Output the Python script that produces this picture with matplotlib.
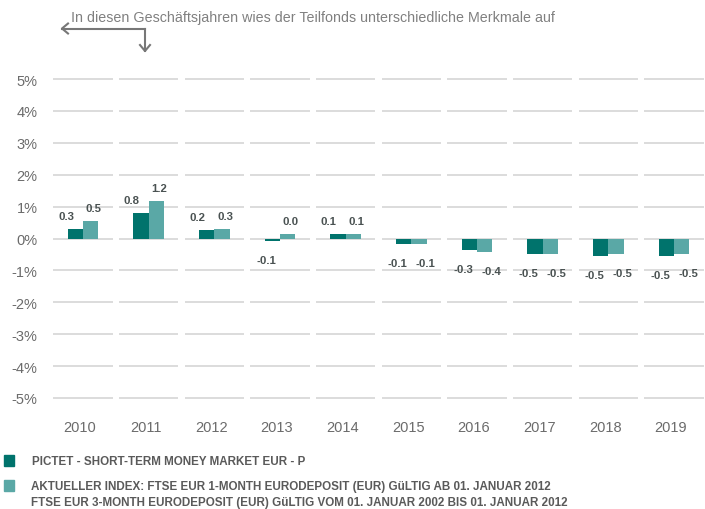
import matplotlib
matplotlib.use("Agg")
import matplotlib.pyplot as plt
from matplotlib.transforms import ScaledTranslation
from matplotlib.patches import Rectangle

plt.rcParams['font.family'] = ['Liberation Sans', 'DejaVu Sans']

years = ["2010", "2011", "2012", "2013", "2014", "2015", "2016", "2017", "2018", "2019"]
fund_values = [0.31, 0.81, 0.26, -0.08, 0.15, -0.17, -0.37, -0.48, -0.55, -0.55]
index_values = [0.56, 1.19, 0.31, 0.13, 0.15, -0.17, -0.43, -0.48, -0.48, -0.48]
fund_labels = ["0.3", "0.8", "0.2", "-0.1", "0.1", "-0.1", "-0.3", "-0.5", "-0.5", "-0.5"]
index_labels = ["0.5", "1.2", "0.3", "0.0", "0.1", "-0.1", "-0.4", "-0.5", "-0.5", "-0.5"]
y_ticks = [-5, -4, -3, -2, -1, 0, 1, 2, 3, 4, 5]
y_tick_labels = [f"{v}%" for v in y_ticks]

fund_name = "PICTET - SHORT-TERM MONEY MARKET EUR - P"
index_name = ("AKTUELLER INDEX: FTSE EUR 1-MONTH EURODEPOSIT (EUR) GüLTIG AB 01. JANUAR 2012\n"
              "FTSE EUR 3-MONTH EURODEPOSIT (EUR) GüLTIG VOM 01. JANUAR 2002 BIS 01. JANUAR 2012")
note = "In diesen Geschäftsjahren wies der Teilfonds unterschiedliche Merkmale auf"

FUND_C = "#00736c"
INDEX_C = "#5aa8a6"
GRID_C = "#d9d9d9"
TEXT_C = "#6b6b6b"
LABEL_C = "#4a5252"

W, H = 705, 510
fig = plt.figure(figsize=(W / 100, H / 100), dpi=100)

px_left, px_right = 50, 705
y_top_px, y_bot_px = 80, 399
c0, step = 83.0, 65.67
ax = fig.add_axes([px_left / W, 1 - y_bot_px / H, (px_right - px_left) / W, (y_bot_px - y_top_px) / H])
ax.set_xlim((px_left - c0) / step, (px_right - c0) / step)
ax.set_ylim(-5, 5)
for s in ax.spines.values():
    s.set_visible(False)

x = list(range(len(years)))
for yv in y_ticks:
    ax.hlines([yv] * len(x), [i - 0.45 for i in x], [i + 0.45 for i in x],
              colors=GRID_C, linewidth=1.3, zorder=0, clip_on=False)

bw = 0.235
ax.bar([i - bw / 2 for i in x], fund_values, width=bw, color=FUND_C, zorder=2)
ax.bar([i + bw / 2 for i in x], index_values, width=bw, color=INDEX_C, zorder=2)

for i in x:
    fv, iv = fund_values[i], index_values[i]
    fx = -17 if fv >= 0 else -14
    fy = 13 if fv >= 0 else -19
    ax.annotate(fund_labels[i], (i, fv), xytext=(fx, fy), textcoords='offset pixels',
                ha='center', va='center', fontsize=8.2, fontweight='bold', color=LABEL_C)
    ix = 11 if iv >= 0 else 14
    iy = 13 if iv >= 0 else -19
    ax.annotate(index_labels[i], (i, iv), xytext=(ix, iy), textcoords='offset pixels',
                ha='center', va='center', fontsize=8.2, fontweight='bold', color=LABEL_C)

ax.set_yticks(y_ticks)
ax.set_yticklabels(y_tick_labels, fontsize=10.5, color=TEXT_C)
ax.set_xticks(x)
ax.set_xticklabels(years, fontsize=10.5, color=TEXT_C)
ax.tick_params(axis='y', length=0, pad=9)
ax.tick_params(axis='x', length=0, pad=16)
shift = ScaledTranslation(-3 / 100, 0, fig.dpi_scale_trans)
for lbl in ax.get_xticklabels():
    lbl.set_transform(lbl.get_transform() + shift)

ftr = fig.transFigure
def fp(px, py):
    return (px / W, 1 - py / H)

fig.text(*fp(71, 18), note, fontsize=10.3, color="#808080", ha='left', va='center')
arrow_c = "#777777"
fig.add_artist(plt.Line2D([fp(62, 0)[0], fp(145, 0)[0]], [fp(0, 29.5)[1]] * 2,
                          transform=ftr, color=arrow_c, lw=1.5))
fig.add_artist(plt.Line2D([fp(145, 0)[0]] * 2, [fp(0, 29.5)[1], fp(0, 52)[1]],
                          transform=ftr, color=arrow_c, lw=1.5))
fig.add_artist(plt.Line2D([fp(68, 0)[0], fp(62, 0)[0], fp(68, 0)[0]],
                          [fp(0, 24.5)[1], fp(0, 29.5)[1], fp(0, 34.5)[1]],
                          transform=ftr, color=arrow_c, lw=1.5))
fig.add_artist(plt.Line2D([fp(140, 0)[0], fp(145, 0)[0], fp(150, 0)[0]],
                          [fp(0, 46)[1], fp(0, 52)[1], fp(0, 46)[1]],
                          transform=ftr, color=arrow_c, lw=1.5))

fig.add_artist(Rectangle(fp(4, 467), 10 / W, 11 / H, transform=ftr, color=FUND_C))
fig.add_artist(Rectangle(fp(4, 492), 10 / W, 11 / H, transform=ftr, color=INDEX_C))
leg_font = ['Liberation Sans', 'DejaVu Sans']
fig.text(*fp(32, 462), fund_name, family=leg_font, fontsize=8.4, fontweight='bold',
         color="#5a5a5a", ha='left', va='center')
fig.text(*fp(31, 495), index_name, family=leg_font, fontsize=8.4, fontweight='bold',
         color="#5a5a5a", ha='left', va='center', linespacing=1.45)

fig.savefig("out.png", dpi=100)
